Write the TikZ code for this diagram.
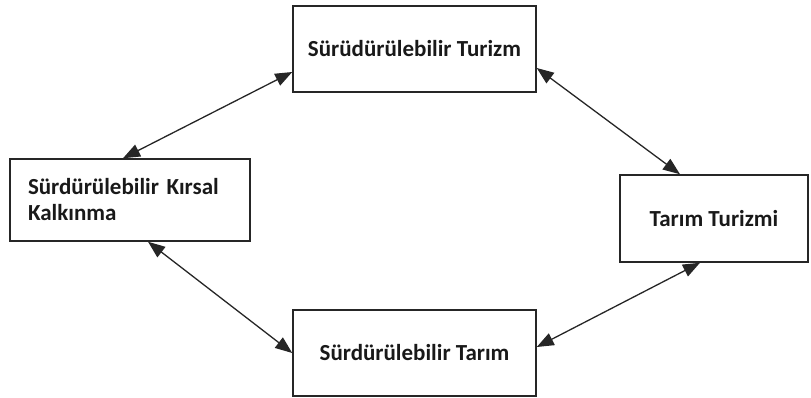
\documentclass[tikz,border=0pt]{standalone}
\usepackage{fontspec}
\setmainfont{Carlito}
\usepackage{tikz}
\usetikzlibrary{arrows.meta}
\tikzset{box/.style={draw=black!85,line width=1.5pt,inner sep=0pt,
   font=\fontsize{23}{26}\selectfont\bfseries,text=black!90},
 link/.style={line width=1.3pt,black!85,
   {Triangle[length=17pt,width=13pt]}-{Triangle[length=17pt,width=13pt]}},
 }

\begin{document}
\begin{tikzpicture}[x=1pt,y=-1pt]
        \useasboundingbox (0,0) rectangle (811,398);
        \node[box,minimum width=243pt,minimum height=86pt] (turizm) at (414.5,49) {Sürüdürülebilir Turizm};
        \node[box,minimum width=240pt,minimum height=82pt,text width=204pt,align=left] (kirsal) at (130,200) {Sürdürülebilir Kırsal\\Kalkınma};
        \node[box,minimum width=188pt,minimum height=87pt] (tturizm) at (714,218.5) {Tarım Turizmi};
        \node[box,minimum width=243pt,minimum height=86pt] (tarim) at (414.5,353) {Sürdürülebilir Tarım};
        \draw[link] ([yshift=-23pt]turizm.west) -- ([xshift=-7pt]kirsal.north);
        \draw[link] ([yshift=-19pt]turizm.east) -- ([xshift=-34pt]tturizm.north);
        \draw[link] ([xshift=18pt]kirsal.south) -- (tarim.west);
        \draw[link] ([yshift=6pt]tarim.east) -- ([xshift=-14pt]tturizm.south);
    \end{tikzpicture}
\end{document}
